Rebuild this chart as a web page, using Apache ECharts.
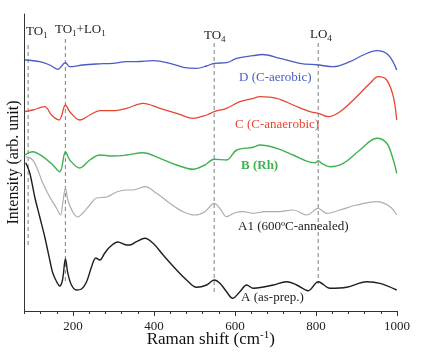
<!DOCTYPE html>
<html>
<head>
<meta charset="utf-8">
<script src="https://cdn.jsdelivr.net/npm/echarts@6/dist/echarts.min.js"></script>
<style>html,body{margin:0;padding:0;background:#fff}#c{width:425px;height:356px}</style>
</head>
<body>
<div id="c"></div>
<script>
// Raman shift (cm^-1) vs intensity (arb. units, offset stacked)
const seriesD = [[80.6,251],[117.7,249.3],[142.4,246],[162.2,241.7],[181.2,248.3],[191.8,244.3],[224,246],[257.8,247],[298.1,247.7],[332,249.3],[356.7,249.3],[397.7,250.3],[439,247.7],[471.9,243.7],[505,242.7],[529.7,245],[548.5,247.7],[579.1,248.3],[603.9,252.7],[644.9,255.3],[667,256.5],[710.9,252.7],[760.3,247.7],[805.5,246],[842.6,244.3],[883.9,249.3],[916.7,256],[949.9,260.3],[978.5,256],[999.3,241]];
const seriesC = [[80.6,199.3],[100.4,201],[130.1,204.3],[146.6,196],[165.4,191],[181.2,206],[191.8,199.3],[216.6,191],[241.3,196],[266,200.3],[298.1,200.3],[332,202.7],[373,207.7],[414.3,202.7],[455.6,197.7],[496.6,192.7],[529.7,196],[548.5,199.3],[579.1,202.7],[612,209.3],[644.9,212.7],[661.4,214.3],[702.7,212.7],[743.7,206],[784.9,199.3],[805.5,197.7],[830.3,194.3],[859.2,199.3],[900.4,214.3],[933.3,227.7],[953.8,234.3],[974.6,231],[990.9,214.3],[999.3,191]];
const seriesB = [[80.6,156],[100.4,159.3],[125.1,154.3],[149.8,146],[167.1,139.3],[181.2,159.3],[191.8,151],[216.6,143],[241.3,151],[266,156],[298.1,155],[332,156],[373,158.3],[414.3,152.7],[455.6,146],[496.6,141.7],[525.5,146],[548.5,151.7],[579.1,151],[603.9,161],[644.9,163.7],[661.4,166],[702.7,162.7],[743.7,156],[780.8,149.3],[797.4,148.3],[805.5,150.3],[813.9,147.7],[834.4,144.3],[867.3,147.7],[908.6,161],[949.9,172.7],[974.6,167.7],[990.9,151],[999.3,137.7]];
const seriesA1 = [[83.1,154.3],[100.4,151],[112.8,141],[125.1,128],[142.4,114],[159,103],[168.9,96],[174.5,108],[181.2,123],[186.9,111],[199.3,99],[211.6,94],[224,98],[241.3,106],[257.8,113],[282.6,114],[307.3,119],[332,121],[348.3,121],[377.2,124.3],[406.1,117.7],[439,107.7],[471.9,99.3],[500.8,96],[525.5,99.3],[548.5,107.7],[562.6,102.7],[579.1,94.3],[599.7,98.3],[620.2,99.3],[644.9,97.7],[673.8,99.3],[702.7,99.3],[743.7,101],[776.8,96],[805.5,102.7],[826.3,97.7],[859.2,101],[900.4,106],[949.9,109.3],[982.7,104.3],[999.3,96]];
const seriesA = [[83.1,148.3],[93,138],[105.3,114],[117.7,94],[130.1,74],[142.4,51],[149.8,38],[159.7,29],[167.1,25],[173.8,31],[181.2,52],[186.9,38],[196,26],[208.4,21],[220.8,22],[233.1,29],[245.5,44],[256.1,53],[266,51],[278.3,58],[290.7,64],[310.5,69],[332,66],[340.1,66],[356.7,69.3],[377.2,72.7],[397.7,67.7],[422.4,56],[455.6,41],[480.3,31],[505,23.7],[529.7,26],[548.5,31],[562.6,27.7],[579.1,19.3],[594,12.7],[612,19.3],[628.6,26],[644.9,22.7],[673.8,24.3],[694.3,26],[727.4,29.3],[752.1,26],[780.8,20.3],[805.5,29.3],[834.4,22.7],[875.7,23.7],[925.2,29.3],[958,27.7],[999.3,21]];
// assignment marker positions (cm^-1) and dashed-line extents (intensity units)
const peakPositions = [89, 181, 548.5, 805.5];
const peakTop = [266, 272, 268, 268];
const peakBottom = [66, 29, 18, 27];
const majorTicks = [200, 400, 600, 800, 1000];
const minorTicks = [80,120,160,240,280,320,360,440,480,520,560,640,680,720,760,840,880,920,960];

const FONT = 'Liberation Serif';
const chart = echarts.init(document.getElementById('c'), null, {renderer: 'canvas'});

const curveStyle = (color, w) => ({
  type: 'line', smooth: 0.35, symbol: 'none', showSymbol: false,
  lineStyle: {color: color, width: w}, itemStyle: {color: color}, z: 3, silent: true
});

const dashSeries = peakPositions.map((x, i) => ({
  type: 'line', symbol: 'none', silent: true, z: 2,
  data: [[x, peakTop[i]], [x, peakBottom[i]]],
  lineStyle: {color: '#8c8c8c', width: 1.1, type: [4, 3]}
}));

const sub = {fontFamily: FONT, fontSize: 9, fill: '#222', color: '#222', verticalAlign: 'bottom', lineHeight: 10};
const base = {fontFamily: FONT, fontSize: 13, fill: '#222', color: '#222', lineHeight: 16};

function txt(left, cy, text, color, extra) {
  return {
    type: 'text', x: left, y: cy, z: 10,
    style: Object.assign({text: text, fill: color, font: '13px "' + FONT + '"', textVerticalAlign: 'middle', textAlign: 'left'}, extra || {})
  };
}
function richTxt(left, cy, text) {
  return {
    type: 'text', x: left, y: cy, z: 10,
    style: {text: text, textVerticalAlign: 'middle', textAlign: 'left', rich: {a: base, s: sub}}
  };
}

chart.setOption({
  animation: false,
  grid: {left: 24.5, right: 28, top: 14, bottom: 45, containLabel: false, outerBoundsMode: 'none'},
  xAxis: [{
    type: 'value', min: 80, max: 1000,
    axisLine: {show: true, lineStyle: {color: '#333', width: 1}},
    axisTick: {show: true, customValues: majorTicks, length: 5, lineStyle: {color: '#333'}},
    axisLabel: {show: true, customValues: majorTicks, formatter: v => String(v), fontFamily: FONT, fontSize: 13, color: '#222', margin: 9},
    splitLine: {show: false},
    name: '{a|Raman shift (cm}{s|-1}{a|)}', nameLocation: 'middle', nameGap: 19, nameMoveOverlap: false,
    nameTextStyle: {rich: {
      a: {fontFamily: FONT, fontSize: 17, color: '#111', lineHeight: 20},
      s: {fontFamily: FONT, fontSize: 11, color: '#111', verticalAlign: 'top', lineHeight: 12}
    }}
  }, {
    type: 'value', min: 80, max: 1000, position: 'bottom', gridIndex: 0,
    axisLine: {show: false},
    axisTick: {show: true, customValues: minorTicks, length: 3, lineStyle: {color: '#333'}},
    axisLabel: {show: false}, splitLine: {show: false}
  }],
  yAxis: {
    type: 'value', min: 0, max: 297,
    axisLine: {show: true, lineStyle: {color: '#333', width: 1}},
    axisTick: {show: false}, axisLabel: {show: false}, splitLine: {show: false},
    name: 'Intensity (arb. unit)', nameLocation: 'middle', nameGap: 3, nameMoveOverlap: false,
    nameTextStyle: {fontFamily: FONT, fontSize: 16, color: '#111'}
  },
  series: [
    ...dashSeries,
    Object.assign({data: seriesD}, curveStyle('#4a5cc4', 1.3)),
    Object.assign({data: seriesC}, curveStyle('#e8452f', 1.3)),
    Object.assign({data: seriesB}, curveStyle('#3db24f', 1.4)),
    Object.assign({data: seriesA1}, curveStyle('#b3abab', 1.2)),
    Object.assign({data: seriesA}, curveStyle('#1e1e1e', 1.4))
  ],
  graphic: [
    richTxt(26, 32, '{a|TO}{s|1}'),
    richTxt(55, 30, '{a|TO}{s|1}{a|+LO}{s|1}'),
    richTxt(204, 36, '{a|TO}{s|4}'),
    richTxt(310, 35, '{a|LO}{s|4}'),
    txt(239, 78, 'D (C-aerobic)', '#4a5cc4'),
    txt(235, 125, 'C (C-anaerobic)', '#e8452f'),
    txt(241, 166, 'B (Rh)', '#3db24f', {font: 'bold 13px "' + FONT + '"'}),
    txt(238, 227, 'A1 (600\u00baC-annealed)', '#222'),
    txt(241, 298, 'A (as-prep.)', '#222')
  ]
});
</script>
</body>
</html>
